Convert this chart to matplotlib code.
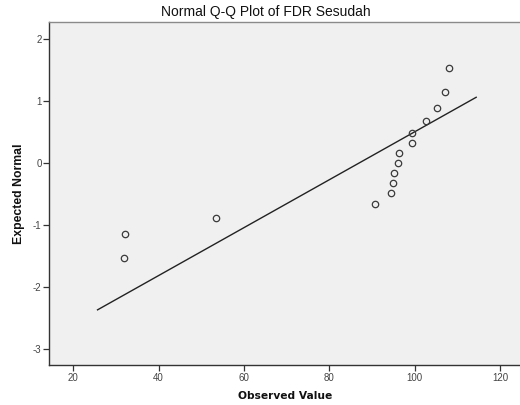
import matplotlib
matplotlib.use("Agg")
import matplotlib.pyplot as plt

# Data
observed = [32.0, 32.1, 53.4, 90.7, 94.4, 94.9, 95.2, 96.0, 96.3, 99.45, 99.45, 102.7, 105.2, 107.2, 108.0]
expected = [-1.53, -1.15, -0.89, -0.67, -0.49, -0.32, -0.16, 0.0, 0.16, 0.32, 0.49, 0.67, 0.89, 1.15, 1.53]
line_x = [25.7, 114.4]
line_y = [-2.37, 1.06]
x_ticks = [20, 40, 60, 80, 100, 120]
y_ticks = [-3, -2, -1, 0, 1, 2]

W, H = 520, 405
fig = plt.figure(figsize=(W / 100, H / 100), dpi=100)
fig.patch.set_facecolor("white")

left, right, top, bottom = 49.3, 521, 22.3, 365
ax = fig.add_axes([left / W, 1 - bottom / H, (right - left) / W, (bottom - top) / H])
ax.set_facecolor("#f0f0f0")

ax.plot(line_x, line_y, color="#222222", linewidth=1.0, zorder=2)
ax.plot(observed, expected, linestyle="none", marker="o", markersize=4.6,
        markerfacecolor="none", markeredgecolor="#3a3a3a", markeredgewidth=0.9, zorder=3)

ax.set_xlim(14.4, 124.9)
ax.set_ylim(-3.26, 2.27)
ax.set_xticks(x_ticks)
ax.set_yticks(y_ticks)
ax.set_xticklabels([str(t) for t in x_ticks])
ax.set_yticklabels([str(t) for t in y_ticks])

for s in ["left", "bottom"]:
    ax.spines[s].set_color("#333333")
    ax.spines[s].set_linewidth(1.0)
ax.spines["top"].set_color("#8a8a8a")
ax.spines["top"].set_linewidth(1.0)
ax.spines["right"].set_visible(False)

ax.tick_params(axis="both", direction="out", length=4, width=0.9, color="#333333",
               labelsize=7, labelcolor="#444444", pad=1.5)
for lbl in ax.get_xticklabels() + ax.get_yticklabels():
    lbl.set_family("Liberation Sans")

ax.set_xlabel("Observed Value", fontsize=7.7, fontweight="bold", family="DejaVu Sans",
              labelpad=6, color="#111111")
ax.set_ylabel("Expected Normal", fontsize=8.8, fontweight="bold", family="Liberation Sans",
              labelpad=6, color="#111111")

fig.text(265.5 / W, 1 - 12 / H, "Normal Q-Q Plot of FDR Sesudah", ha="center", va="center",
         fontsize=10, family="Liberation Sans", color="#111111")

fig.savefig("out.png", dpi=100, facecolor="white")
